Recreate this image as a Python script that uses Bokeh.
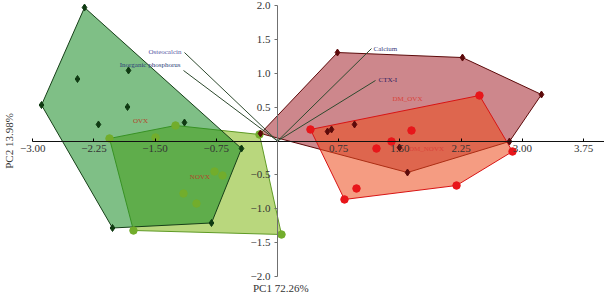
import math
from bokeh.plotting import figure
from bokeh.models import LinearAxis, FixedTicker, Label
from bokeh.embed import file_html
from bokeh.resources import INLINE

# ---------------- data ----------------
ovx_x = [-2.365, -2.892, -2.451, -1.826, -1.838, -2.194, -1.140, -0.441, -0.809, -2.022]
ovx_y = [1.970, 0.531, 0.915, 1.041, 0.502, 0.244, 0.273, -0.111, -1.210, -1.284]

novx_x = [-2.059, -1.495, -1.250, -0.221, -0.772, -0.674, -1.152, -0.993, -1.765, 0.049]
novx_y = [0.037, 0.052, 0.229, 0.096, -0.450, -0.509, -0.775, -0.923, -1.321, -1.380]

dmovx_x = [0.735, 2.267, 3.235, 2.843, 1.593, -0.208, 0.613, 0.662, 0.944, 1.495]
dmovx_y = [1.306, 1.232, 0.686, -0.007, -0.465, 0.111, 0.140, 0.170, 0.244, -0.096]

dmnovx_x = [0.404, 2.475, 1.642, 1.397, 1.213, 2.880, 2.194, 0.968, 0.821]
dmnovx_y = [0.170, 0.672, 0.155, -0.007, -0.111, -0.155, -0.657, -0.701, -0.863]

loading_names = ["Osteocalcin", "Inorganic phosphorus", "Calcium", "CTX-I"]
loading_x = [-1.140, -1.152, 1.152, 1.201]
loading_y = [1.306, 1.041, 1.365, 0.893]

group_names = ["OVX", "NOVX", "DM_OVX", "DM_NOVX"]
group_label_x = [-1.679, -0.950, 1.593, 1.826]
group_label_y = [0.288, -0.530, 0.627, -0.111]

x_ticks = [-3.0, -2.25, -1.5, -0.75, 0.75, 1.5, 2.25, 3.0, 3.75]
x_tick_labels = ["\u22123.00", "\u22122.25", "\u22121.50", "\u22120.75", "0.75", "1.50", "2.25", "3.00", "3.75"]
y_ticks = [-2.0, -1.5, -1.0, -0.5, 0.5, 1.0, 1.5, 2.0]
y_tick_labels = ["\u22122.0", "\u22121.5", "\u22121.0", "\u22120.5", "0.5", "1.0", "1.5", "2.0"]

x_title = "PC1 72.26%"
y_title = "PC2 13.98%"

# ---------------- helpers ----------------
def hull(xs, ys):
    pts = sorted(set(zip(xs, ys)))
    def cross(o, a, b):
        return (a[0]-o[0])*(b[1]-o[1]) - (a[1]-o[1])*(b[0]-o[0])
    lower, upper = [], []
    for p_ in pts:
        while len(lower) >= 2 and cross(lower[-2], lower[-1], p_) <= 0:
            lower.pop()
        lower.append(p_)
    for p_ in reversed(pts):
        while len(upper) >= 2 and cross(upper[-2], upper[-1], p_) <= 0:
            upper.pop()
        upper.append(p_)
    h = lower[:-1] + upper[:-1]
    return [q[0] for q in h], [q[1] for q in h]

W, H = 604, 294
x0_px, xscale = 277.0, 81.6
y0_px, yscale = 140.5, 67.75
x_start, x_end = -x0_px / xscale, (W - x0_px) / xscale
y_end, y_start = y0_px / yscale, -(H - y0_px) / yscale

SERIF = "Liberation Serif"

p = figure(width=W, height=H, output_backend="svg", toolbar_location=None,
           x_range=(x_start, x_end), y_range=(y_start, y_end),
           x_axis_location=None, y_axis_location=None,
           min_border=0, min_border_left=0, min_border_right=0,
           min_border_top=0, min_border_bottom=0)
p.outline_line_color = None
p.xgrid.visible = False
p.ygrid.visible = False
p.background_fill_color = "white"

# ---------------- polygons ----------------
hx, hy = hull(novx_x, novx_y)
p.patch(hx, hy, fill_color="#93c137", fill_alpha=0.65, line_color="#5f9a25", line_width=1)
hx, hy = hull(ovx_x, ovx_y)
p.patch(hx, hy, fill_color="#168b23", fill_alpha=0.55, line_color="#163f18", line_width=1)
hx, hy = hull(dmovx_x, dmovx_y)
p.patch(hx, hy, fill_color="#a4252e", fill_alpha=0.55, line_color="#5c0a0a", line_width=1)
hx, hy = hull(dmnovx_x, dmnovx_y)
p.patch(hx, hy, fill_color="#ed4a1c", fill_alpha=0.55, line_color="#d81414", line_width=1)

# ---------------- loadings ----------------
for nx, ny in zip(loading_x, loading_y):
    p.line([0, nx], [0, ny], line_color="#2e4a2e", line_width=1)

load_colors = ["#5858a4", "#2c3c78", "#40407e", "#302060"]
load_align = ["right", "right", "left", "left"]
load_xoff = [-3, -3, 2, 3]
load_yoff = [1, 5, 0, 0]
for name, nx, ny, c, al, xo, yo in zip(loading_names, loading_x, loading_y, load_colors,
                                       load_align, load_xoff, load_yoff):
    p.add_layout(Label(x=nx, y=ny, text=name, x_offset=xo, y_offset=yo,
                       text_align=al, text_baseline="middle",
                       text_font=SERIF, text_font_size="7px", text_color=c))

# ---------------- markers ----------------
p.scatter(novx_x, novx_y, marker="circle", size=7.5, fill_color="#72ad2c", line_color="#72ad2c")
p.scatter(ovx_x, ovx_y, marker="diamond", size=7, fill_color="#0f3a12", line_color="#0f3a12")
p.scatter(dmnovx_x, dmnovx_y, marker="circle", size=7.5, fill_color="#e8161a", line_color="#e8161a")
p.scatter(dmovx_x, dmovx_y, marker="diamond", size=7, fill_color="#5c0a0a", line_color="#5c0a0a")

# ---------------- group labels ----------------
group_colors = ["#b5462a", "#b5462a", "#d9443a", "#d9443a"]
for name, gx, gy, c in zip(group_names, group_label_x, group_label_y, group_colors):
    p.add_layout(Label(x=gx, y=gy, text=name, text_align="center", text_baseline="middle",
                       text_font=SERIF, text_font_size="7px", text_color=c))

# ---------------- axes ----------------
xaxis = LinearAxis(fixed_location=0, ticker=FixedTicker(ticks=x_ticks),
                   major_label_overrides={t: l for t, l in zip(x_ticks, x_tick_labels)})
xaxis.bounds = (x_ticks[0], x_end)
xaxis.axis_line_color = "#111111"
xaxis.major_tick_in = 3
xaxis.major_tick_out = 0
xaxis.minor_tick_line_color = None
xaxis.major_label_text_font = SERIF
xaxis.major_label_text_font_size = "11px"
xaxis.major_label_text_color = "#333333"
xaxis.major_label_standoff = 4
p.add_layout(xaxis, "below")

yaxis = LinearAxis(fixed_location=0, ticker=FixedTicker(ticks=y_ticks),
                   major_label_overrides={t: l for t, l in zip(y_ticks, y_tick_labels)})
yaxis.bounds = (y_ticks[0], y_ticks[-1])
yaxis.axis_line_color = "#707070"
yaxis.major_tick_line_color = "#707070"
yaxis.major_tick_in = 0
yaxis.major_tick_out = 3
yaxis.minor_tick_line_color = None
yaxis.major_label_text_font = SERIF
yaxis.major_label_text_font_size = "11px"
yaxis.major_label_text_color = "#333333"
yaxis.major_label_standoff = 4
p.add_layout(yaxis, "left")

# axis titles
p.add_layout(Label(x=0.04, y=y_start, y_offset=1, text=x_title, text_align="center",
                   text_baseline="bottom", text_font=SERIF, text_font_size="11px",
                   text_color="#333333"))
p.add_layout(Label(x=2, x_units="screen", y=0, text=y_title, angle=math.pi / 2,
                   text_align="center", text_baseline="top", text_font=SERIF,
                   text_font_size="11px", text_color="#333333"))

open("out.html", "w").write(file_html(p, INLINE))
